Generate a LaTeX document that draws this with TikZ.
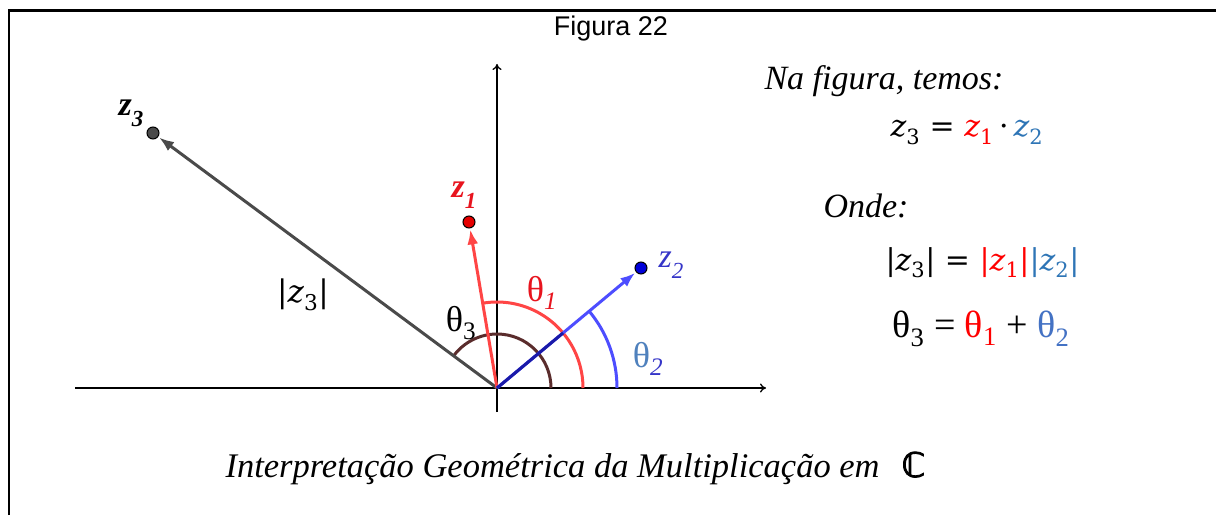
\documentclass[tikz,border=0pt]{standalone}
\usepackage{fontspec}
\setmainfont{Liberation Serif}
\newfontfamily\arialfont{Liberation Sans}
\newfontfamily\djserif{DejaVu Serif}
\newfontfamily\djsans[FakeBold=2.5]{DejaVu Sans}
\usetikzlibrary{arrows.meta}
\definecolor{vgray}{HTML}{4A4A4A}
\definecolor{vred}{HTML}{FF4545}
\definecolor{vblue}{HTML}{4D4DFF}
\definecolor{vnavy}{HTML}{1A1AA8}
\definecolor{abrown}{HTML}{5A2C2C}
\definecolor{lred}{HTML}{E8141E}
\definecolor{lblue}{HTML}{3535C8}
\definecolor{thblue}{HTML}{4F81BD}
\definecolor{eqred}{HTML}{FF0000}
\definecolor{eqblue}{HTML}{2E75B6}
\definecolor{eqthblue}{HTML}{4472C4}
\newcommand{\lowsub}[1]{\raisebox{-0.32em}{\fontsize{23}{23}\selectfont #1}}
\newcommand{\zv}[1]{{\itshape z}\textsubscript{#1}}
\newcommand{\tv}[1]{θ\textsubscript{#1}}
\begin{document}
\begin{tikzpicture}[x=1pt,y=1pt,
  axisline/.style={line width=1.3pt, black, -{To[length=6pt,width=9pt]}},
  pt/.style={circle, draw=black, line width=1pt, minimum size=12pt, inner sep=0pt},
  vec/.style={line width=3pt, -{Latex[length=15pt,width=11pt]}, shorten >=1pt},
  anglearc/.style={line width=3pt},
  zlabel/.style={font=\fontsize{34}{34}\selectfont\bfseries\itshape},
  thlabel/.style={font=\fontsize{36}{36}\selectfont},
  rtext/.style={anchor=base west, font=\fontsize{34}{34}\selectfont\itshape},
  eqn/.style={anchor=base west, font=\djserif\fontsize{30}{30}\selectfont},
  theqn/.style={anchor=base west, font=\fontsize{38}{38}\selectfont}]
\useasboundingbox (0,0) rectangle (1216,515);
\fill[white] (0,0) rectangle (1216,515);
% frame
\draw[line width=2.6pt] (9,0) -- (9,504.5) -- (1216,504.5);
\node[anchor=base, font=\arialfont\fontsize{27}{27}\selectfont] (fig) at (611,479) {Figura 22};
% axes
\coordinate (O) at (497,127);
\coordinate (xs) at (75,127);
\coordinate (xe) at (766,127);
\coordinate (ys) at (497,103);
\coordinate (ye) at (497,451);
\draw[axisline] (xs) -- (xe);
\draw[axisline] (ys) -- (ye);
% points
\node[pt, fill=vgray] (z3) at (153,382) {};
\node[pt, fill=red!90!black] (z1) at (469,293) {};
\node[pt, fill=blue!85!black] (z2) at (641,247) {};
% angle arcs
\draw[anglearc, vblue] ([shift={(0:120)}]O) arc[start angle=0, end angle=39.8, radius=120];
\draw[anglearc, vred] ([shift={(0:86)}]O) arc[start angle=0, end angle=99.6, radius=86];
\draw[anglearc, abrown] ([shift={(0:54)}]O) arc[start angle=0, end angle=143.5, radius=54];
% vectors
\draw[vec, vgray] (O) -- (z3);
\draw[vec, vred] (O) -- (z1);
\draw[vec, vblue] (O) -- (z2);
\coordinate (b85) at ([shift={(39.8:86)}]O);
\draw[line width=3pt, vnavy] (O) -- (b85);
% labels
\node[zlabel, black] (lz3) at (131,402) {z\lowsub{3}};
\node[zlabel, lred] (lz1) at (464,320) {z\lowsub{1}};
\node[zlabel, lblue, font=\fontsize{34}{34}\selectfont\itshape] (lz2) at (671,250) {z\lowsub{2}};
\node[thlabel, lred] (th1) at (542,222) {θ\textsubscript{\itshape 1}};
\node[thlabel, thblue] (th2) at (648,156) {θ\textsubscript{\itshape\color{lblue}2}};
\node[thlabel, black] (th3) at (461,192) {θ\textsubscript{3}};
\node[font=\djserif\fontsize{31}{31}\selectfont] (mz3) at (303,220) {|\zv{3}|};
% right text
\node[rtext] (t1) at (761,425) {Na figura, temos:};
\node[eqn] (e1) at (887,378) {\zv{3} = \textcolor{eqred}{\zv{1}}\,·\,\textcolor{eqblue}{\zv{2}}};
\node[rtext] (t2) at (820,298) {Onde:};
\node[eqn] (e2) at (882,245) {|\zv{3}| = \textcolor{eqred}{|\zv{1}|}\textcolor{eqblue}{|\zv{2}|}};
\node[theqn] (e3) at (889,178) {\tv{3} = \textcolor{eqred}{\tv{1}} + \textcolor{eqthblue}{\tv{2}}};
% caption
\node[anchor=base west, font=\fontsize{34.5}{34.5}\selectfont\itshape] (cap) at (222,38) {Interpretação Geométrica da Multiplicação em};
\node[anchor=base west, font=\djsans\fontsize{34}{34}\selectfont] (cc) at (898,38) {ℂ};
\end{tikzpicture}
\end{document}
